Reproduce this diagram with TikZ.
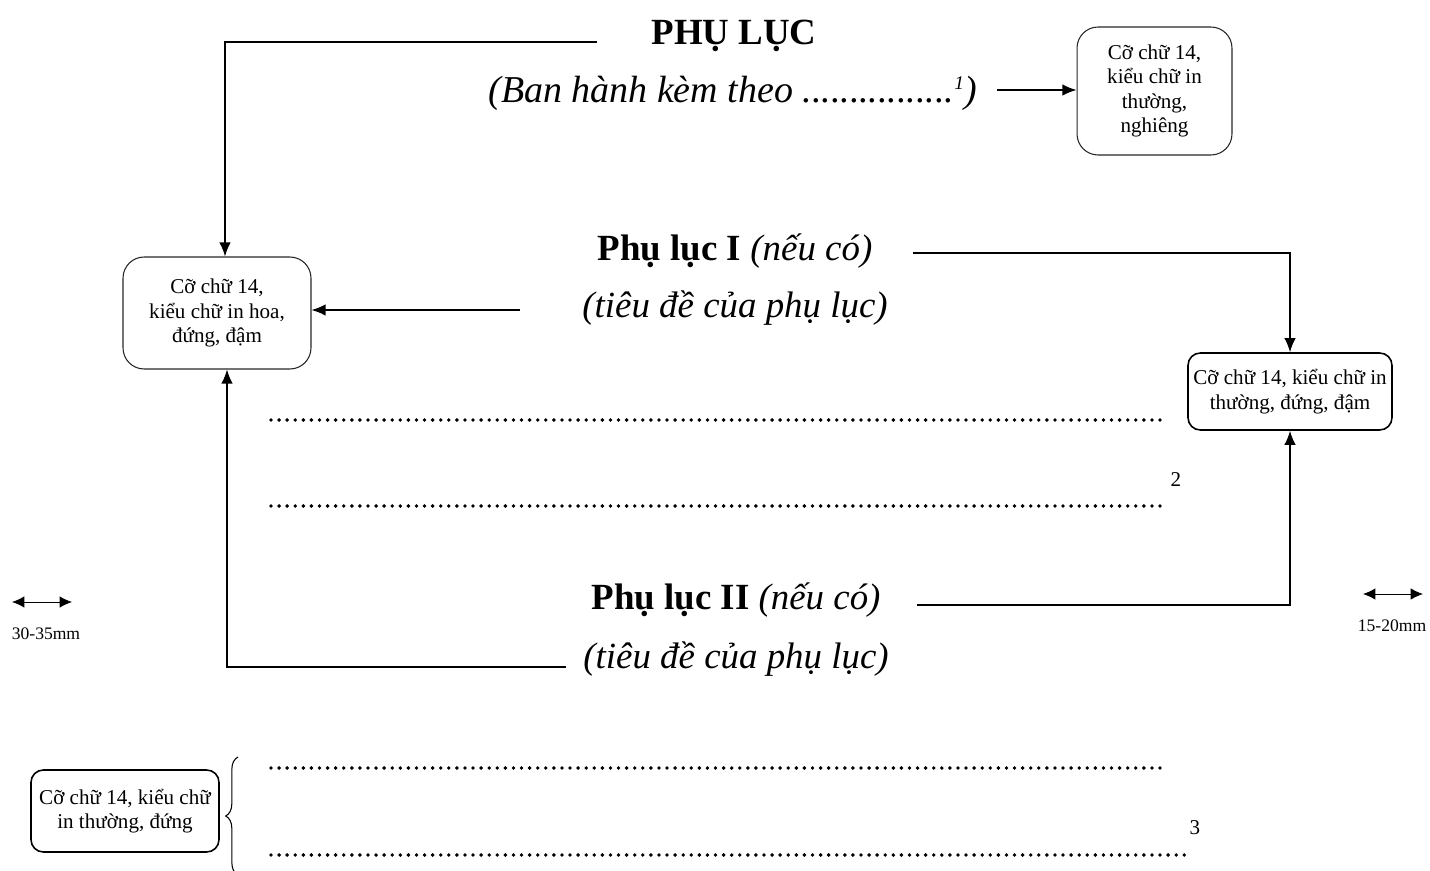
\documentclass[tikz,border=0pt]{standalone}
\usepackage{fontspec}
\setmainfont{Liberation Serif}
\usetikzlibrary{arrows.meta,decorations.pathreplacing}
\begin{document}
\begin{tikzpicture}[x=0.02cm,y=-0.02cm,
  conn/.style={line width=0.8pt},
  arr/.style={line width=0.8pt,-{Latex[length=8pt,width=6.5pt]}},
  dbl/.style={line width=0.5pt,{Latex[length=7pt,width=6.5pt]}-{Latex[length=7pt,width=6.5pt]}},
  infobox/.style={draw,line width=0.6pt,rounded corners=10pt,align=center,inner sep=0pt,
     font=\fontsize{12}{14}\selectfont},
  dots/.style={line width=2.2pt,line cap=round,dash pattern=on 0pt off 4.6pt},
  bigtitle/.style={font=\fontsize{21}{25}\selectfont\bfseries,anchor=base,inner sep=0pt},
  subt/.style={font=\fontsize{21}{25}\selectfont\itshape,anchor=base,inner sep=0pt},
  ptitle/.style={font=\fontsize{21}{25}\selectfont,anchor=base,inner sep=0pt},
  note/.style={font=\fontsize{12}{14}\selectfont,inner sep=0pt},
  mm/.style={font=\fontsize{10}{12}\selectfont,inner sep=0pt}]
\useasboundingbox (0,0) rectangle (1430,871);

% headings
\node[bigtitle] (title) at (734,45) {PHỤ LỤC};
\node[subt,font=\fontsize{21.6}{25}\selectfont\itshape] (subtitle) at (733,103) {(Ban hành kèm theo ................\textsuperscript{\fontsize{11}{12}\selectfont 1})};
\node[ptitle] (p1) at (735,261) {\textbf{Phụ lục I} \textit{(nếu có)}};
\node[subt] (p1s) at (735,318) {(tiêu đề của phụ lục)};
\node[ptitle] (p2) at (736,609) {\textbf{Phụ lục II} \textit{(nếu có)}};
\node[subt] (p2s) at (736,668) {(tiêu đề của phụ lục)};

% boxes
\node[infobox,minimum width=3.1cm,minimum height=2.56cm,rounded corners=12pt,draw=black!85] (boxA) at (1154.5,91)
  {Cỡ chữ 14,\\kiểu chữ in\\thường,\\nghiêng};
\node[infobox,minimum width=3.76cm,minimum height=2.24cm,rounded corners=12pt,draw=black!85] (boxB) at (217,313)
  {Cỡ chữ 14,\\kiểu chữ in hoa,\\đứng, đậm};
\node[infobox,minimum width=4.08cm,minimum height=1.54cm,line width=0.9pt,rounded corners=7pt] (boxC) at (1290,391.5)
  {Cỡ chữ 14, kiểu chữ in\\thường, đứng, đậm};
\node[infobox,minimum width=3.76cm,minimum height=1.64cm,line width=0.9pt,rounded corners=7pt] (boxD) at (125,811)
  {Cỡ chữ 14, kiểu chữ\\in thường, đứng};

% connectors
\coordinate (s1) at (597,42);
\coordinate (k1) at (225,42);
\draw[arr] (s1) -- (k1) -- (k1 |- boxB.north);

\coordinate (s2) at (997,90);
\draw[arr] (s2) -- (s2 -| boxA.west);

\coordinate (s3) at (520,310);
\draw[arr] (s3) -- (s3 -| boxB.east);

\coordinate (s4) at (913,253);
\draw[arr] (s4) -| (boxC.north);

\coordinate (s5) at (917,605);
\draw[arr] (s5) -| (boxC.south);

\coordinate (s6) at (566,667);
\coordinate (k6) at (227,667);
\draw[arr] (s6) -- (k6) -- (k6 |- boxB.south);

% dotted lines
\coordinate (d1a) at (271,420); \coordinate (d1b) at (1165,420);
\coordinate (d2a) at (271,506); \coordinate (d2b) at (1167,506);
\coordinate (d3a) at (271,768); \coordinate (d3b) at (1168,768);
\coordinate (d4a) at (271,855); \coordinate (d4b) at (1188,855);
\draw[dots] (d1a) -- (d1b);
\draw[dots] (d2a) -- (d2b);
\draw[dots] (d3a) -- (d3b);
\draw[dots] (d4a) -- (d4b);
\node[note] (n2) at (1176,480) {2};
\node[note] (n3) at (1195,828) {3};

% margin marks
\coordinate (m1a) at (12,602); \coordinate (m1b) at (72,602);
\draw[dbl] (m1a) -- (m1b);
\node[mm] (mm1) at (46,634) {30-35mm};
\coordinate (m2a) at (1363,594); \coordinate (m2b) at (1423,594);
\draw[dbl] (m2a) -- (m2b);
\node[mm] (mm2) at (1392,626) {15-20mm};

% brace
\coordinate (b1) at (238,757);
\coordinate (b2) at (238,875);
\draw[line width=0.6pt,decorate,decoration={brace,amplitude=7pt,mirror}] (b1) -- (b2);
\end{tikzpicture}
\end{document}
